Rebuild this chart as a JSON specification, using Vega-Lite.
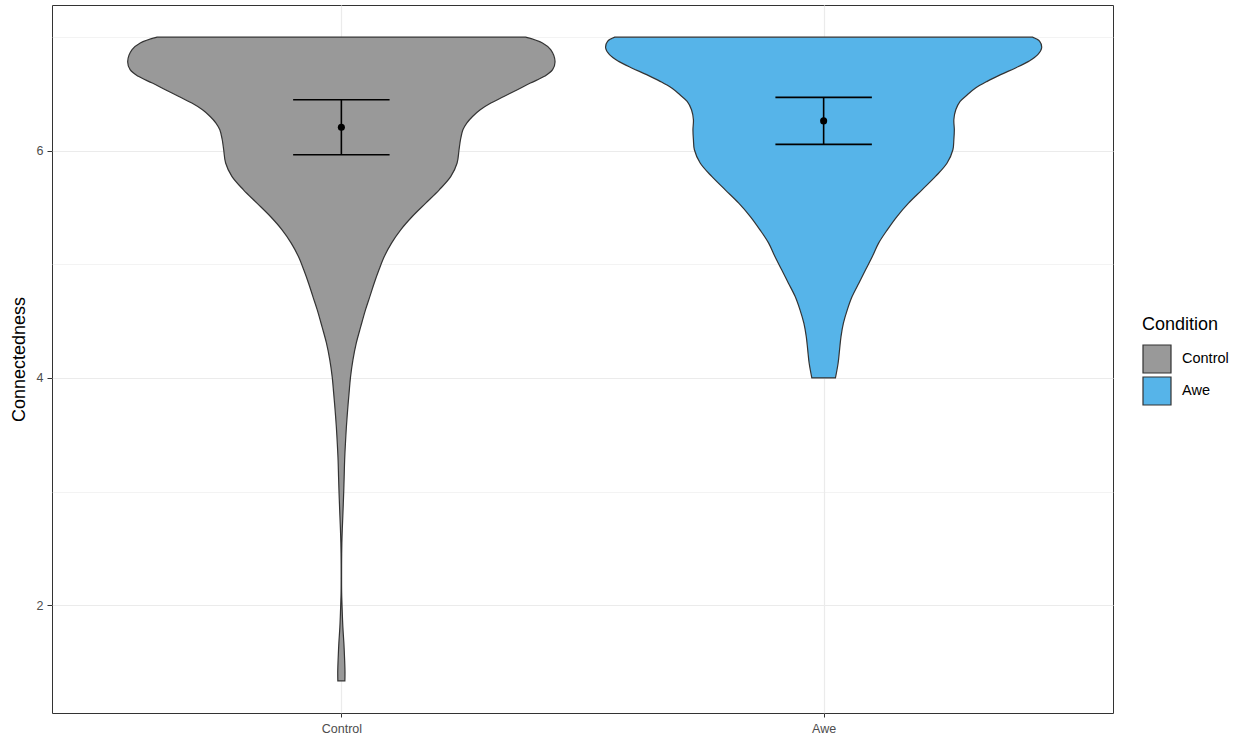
{
  "$schema": "https://vega.github.io/schema/vega-lite/v6.json",
  "width": 1061,
  "height": 708,
  "autosize": {"type": "none"},
  "padding": {"left": 52, "top": 5, "right": 129, "bottom": 27},
  "background": "white",
  "config": {
    "font": "Liberation Sans",
    "view": {"stroke": "#333333", "strokeWidth": 1}
  },
  "datasets": {
    "violin": [
      {"condition": "Control", "score": 7.000, "halfwidth": 0.382},
      {"condition": "Control", "score": 6.949, "halfwidth": 0.417},
      {"condition": "Control", "score": 6.890, "halfwidth": 0.434},
      {"condition": "Control", "score": 6.787, "halfwidth": 0.443},
      {"condition": "Control", "score": 6.714, "halfwidth": 0.438},
      {"condition": "Control", "score": 6.655, "halfwidth": 0.421},
      {"condition": "Control", "score": 6.596, "halfwidth": 0.392},
      {"condition": "Control", "score": 6.537, "halfwidth": 0.365},
      {"condition": "Control", "score": 6.478, "halfwidth": 0.337},
      {"condition": "Control", "score": 6.420, "halfwidth": 0.310},
      {"condition": "Control", "score": 6.361, "halfwidth": 0.288},
      {"condition": "Control", "score": 6.302, "halfwidth": 0.272},
      {"condition": "Control", "score": 6.244, "halfwidth": 0.260},
      {"condition": "Control", "score": 6.185, "halfwidth": 0.252},
      {"condition": "Control", "score": 6.097, "halfwidth": 0.247},
      {"condition": "Control", "score": 6.009, "halfwidth": 0.244},
      {"condition": "Control", "score": 5.892, "halfwidth": 0.240},
      {"condition": "Control", "score": 5.774, "halfwidth": 0.227},
      {"condition": "Control", "score": 5.656, "halfwidth": 0.203},
      {"condition": "Control", "score": 5.539, "halfwidth": 0.175},
      {"condition": "Control", "score": 5.421, "halfwidth": 0.147},
      {"condition": "Control", "score": 5.304, "halfwidth": 0.123},
      {"condition": "Control", "score": 5.187, "halfwidth": 0.104},
      {"condition": "Control", "score": 5.069, "halfwidth": 0.089},
      {"condition": "Control", "score": 4.952, "halfwidth": 0.078},
      {"condition": "Control", "score": 4.834, "halfwidth": 0.068},
      {"condition": "Control", "score": 4.716, "halfwidth": 0.059},
      {"condition": "Control", "score": 4.599, "halfwidth": 0.050},
      {"condition": "Control", "score": 4.449, "halfwidth": 0.040},
      {"condition": "Control", "score": 4.308, "halfwidth": 0.031},
      {"condition": "Control", "score": 4.159, "halfwidth": 0.024},
      {"condition": "Control", "score": 4.009, "halfwidth": 0.019},
      {"condition": "Control", "score": 3.868, "halfwidth": 0.016},
      {"condition": "Control", "score": 3.718, "halfwidth": 0.013},
      {"condition": "Control", "score": 3.568, "halfwidth": 0.0104},
      {"condition": "Control", "score": 3.427, "halfwidth": 0.0085},
      {"condition": "Control", "score": 3.278, "halfwidth": 0.0068},
      {"condition": "Control", "score": 3.128, "halfwidth": 0.0058},
      {"condition": "Control", "score": 2.987, "halfwidth": 0.0048},
      {"condition": "Control", "score": 2.837, "halfwidth": 0.0035},
      {"condition": "Control", "score": 2.687, "halfwidth": 0.0021},
      {"condition": "Control", "score": 2.546, "halfwidth": 0.0010},
      {"condition": "Control", "score": 2.396, "halfwidth": 0.0005},
      {"condition": "Control", "score": 2.247, "halfwidth": 0.0004},
      {"condition": "Control", "score": 2.106, "halfwidth": 0.0006},
      {"condition": "Control", "score": 1.956, "halfwidth": 0.0017},
      {"condition": "Control", "score": 1.806, "halfwidth": 0.0031},
      {"condition": "Control", "score": 1.665, "halfwidth": 0.0052},
      {"condition": "Control", "score": 1.515, "halfwidth": 0.0068},
      {"condition": "Control", "score": 1.410, "halfwidth": 0.0075},
      {"condition": "Control", "score": 1.333, "halfwidth": 0.0073},
      {"condition": "Awe", "score": 7.000, "halfwidth": 0.433},
      {"condition": "Awe", "score": 6.963, "halfwidth": 0.448},
      {"condition": "Awe", "score": 6.905, "halfwidth": 0.452},
      {"condition": "Awe", "score": 6.846, "halfwidth": 0.444},
      {"condition": "Awe", "score": 6.787, "halfwidth": 0.425},
      {"condition": "Awe", "score": 6.729, "halfwidth": 0.398},
      {"condition": "Awe", "score": 6.670, "halfwidth": 0.367},
      {"condition": "Awe", "score": 6.611, "halfwidth": 0.339},
      {"condition": "Awe", "score": 6.552, "halfwidth": 0.315},
      {"condition": "Awe", "score": 6.493, "halfwidth": 0.298},
      {"condition": "Awe", "score": 6.434, "halfwidth": 0.283},
      {"condition": "Awe", "score": 6.361, "halfwidth": 0.274},
      {"condition": "Awe", "score": 6.273, "halfwidth": 0.270},
      {"condition": "Awe", "score": 6.185, "halfwidth": 0.271},
      {"condition": "Awe", "score": 6.097, "halfwidth": 0.270},
      {"condition": "Awe", "score": 6.009, "halfwidth": 0.268},
      {"condition": "Awe", "score": 5.892, "halfwidth": 0.256},
      {"condition": "Awe", "score": 5.774, "halfwidth": 0.232},
      {"condition": "Awe", "score": 5.656, "halfwidth": 0.204},
      {"condition": "Awe", "score": 5.539, "halfwidth": 0.176},
      {"condition": "Awe", "score": 5.421, "halfwidth": 0.152},
      {"condition": "Awe", "score": 5.304, "halfwidth": 0.132},
      {"condition": "Awe", "score": 5.187, "halfwidth": 0.114},
      {"condition": "Awe", "score": 5.069, "halfwidth": 0.101},
      {"condition": "Awe", "score": 4.952, "halfwidth": 0.087},
      {"condition": "Awe", "score": 4.834, "halfwidth": 0.073},
      {"condition": "Awe", "score": 4.716, "halfwidth": 0.059},
      {"condition": "Awe", "score": 4.599, "halfwidth": 0.049},
      {"condition": "Awe", "score": 4.482, "halfwidth": 0.041},
      {"condition": "Awe", "score": 4.364, "halfwidth": 0.036},
      {"condition": "Awe", "score": 4.247, "halfwidth": 0.033},
      {"condition": "Awe", "score": 4.129, "halfwidth": 0.030},
      {"condition": "Awe", "score": 4.000, "halfwidth": 0.0245}
    ],
    "summary": [
      {"condition": "Control", "mean": 6.207, "lo": 5.965, "hi": 6.449},
      {"condition": "Awe", "mean": 6.263, "lo": 6.056, "hi": 6.470}
    ]
  },
  "layer": [
    {
      "data": {"name": "violin"},
      "transform": [
        {"calculate": "datum.condition === 'Control' ? 1 : 2", "as": "pos"},
        {"calculate": "datum.pos - datum.halfwidth", "as": "left"},
        {"calculate": "datum.pos + datum.halfwidth", "as": "right"}
      ],
      "mark": {"type": "area", "orient": "horizontal", "interpolate": "catmull-rom", "stroke": "#333333", "strokeWidth": 1.2, "fillOpacity": 1},
      "encoding": {
        "y": {
          "field": "score", "type": "quantitative", "title": "Connectedness",
          "scale": {"domain": [1.05, 7.2833], "nice": false, "zero": false},
          "axis": {
            "values": [2, 3, 4, 5, 6, 7],
            "labelExpr": "datum.value % 2 == 0 ? format(datum.value, 'd') : ''",
            "grid": true,
            "gridColor": "#EBEBEB",
            "gridWidth": {"condition": {"test": "datum.value % 2 == 1", "value": 0.6}, "value": 1.2},
            "tickColor": {"condition": {"test": "datum.value % 2 == 1", "value": "transparent"}, "value": "#333333"},
            "tickSize": 5,
            "domain": false,
            "labelColor": "#4D4D4D",
            "labelFontSize": 12.5,
            "labelPadding": 4,
            "titleFontSize": 18,
            "titleFontWeight": "normal",
            "titleColor": "black",
            "titlePadding": 8
          }
        },
        "x": {
          "field": "left", "type": "quantitative", "title": null,
          "scale": {"domain": [0.4, 2.6], "nice": false, "zero": false},
          "axis": {
            "values": [1, 2],
            "labelExpr": "datum.value == 1 ? 'Control' : 'Awe'",
            "grid": true,
            "gridColor": "#EBEBEB",
            "gridWidth": 1.2,
            "tickColor": "#333333",
            "tickSize": 4,
            "domain": false,
            "labelColor": "#4D4D4D",
            "labelFontSize": 12.5,
            "labelPadding": 5
          }
        },
        "x2": {"field": "right"},
        "fill": {
          "field": "condition", "type": "nominal",
          "scale": {"domain": ["Control", "Awe"], "range": ["#999999", "#56B4E9"]},
          "legend": {
            "title": "Condition",
            "orient": "none",
            "legendX": 1090,
            "legendY": 311,
            "padding": 0,
            "symbolType": "square",
            "symbolSize": 784,
            "symbolStrokeColor": "#333333",
            "symbolStrokeWidth": 1.2,
            "symbolOpacity": 1,
            "labelFontSize": 14.5,
            "labelColor": "black",
            "labelOffset": 10,
            "titleFontSize": 18,
            "titleFontWeight": "normal",
            "titleColor": "black",
            "titlePadding": 10,
            "rowPadding": -5
          }
        }
      }
    },
    {
      "data": {"name": "summary"},
      "transform": [
        {"calculate": "datum.condition === 'Control' ? 1 : 2", "as": "pos"}
      ],
      "mark": {"type": "rule", "color": "black", "strokeWidth": 1.6},
      "encoding": {
        "x": {"field": "pos", "type": "quantitative", "title": null},
        "y": {"field": "lo", "type": "quantitative", "title": "Connectedness"},
        "y2": {"field": "hi"}
      }
    },
    {
      "data": {"name": "summary"},
      "transform": [
        {"calculate": "datum.condition === 'Control' ? 1 : 2", "as": "pos"},
        {"fold": ["lo", "hi"], "as": ["bound", "value"]},
        {"calculate": "datum.pos - 0.1", "as": "capLeft"},
        {"calculate": "datum.pos + 0.1", "as": "capRight"}
      ],
      "mark": {"type": "rule", "color": "black", "strokeWidth": 1.6},
      "encoding": {
        "x": {"field": "capLeft", "type": "quantitative", "title": null},
        "x2": {"field": "capRight"},
        "y": {"field": "value", "type": "quantitative", "title": "Connectedness"}
      }
    },
    {
      "data": {"name": "summary"},
      "transform": [
        {"calculate": "datum.condition === 'Control' ? 1 : 2", "as": "pos"}
      ],
      "mark": {"type": "point", "filled": true, "color": "black", "opacity": 1, "size": 50},
      "encoding": {
        "x": {"field": "pos", "type": "quantitative", "title": null},
        "y": {"field": "mean", "type": "quantitative", "title": "Connectedness"}
      }
    }
  ]
}
